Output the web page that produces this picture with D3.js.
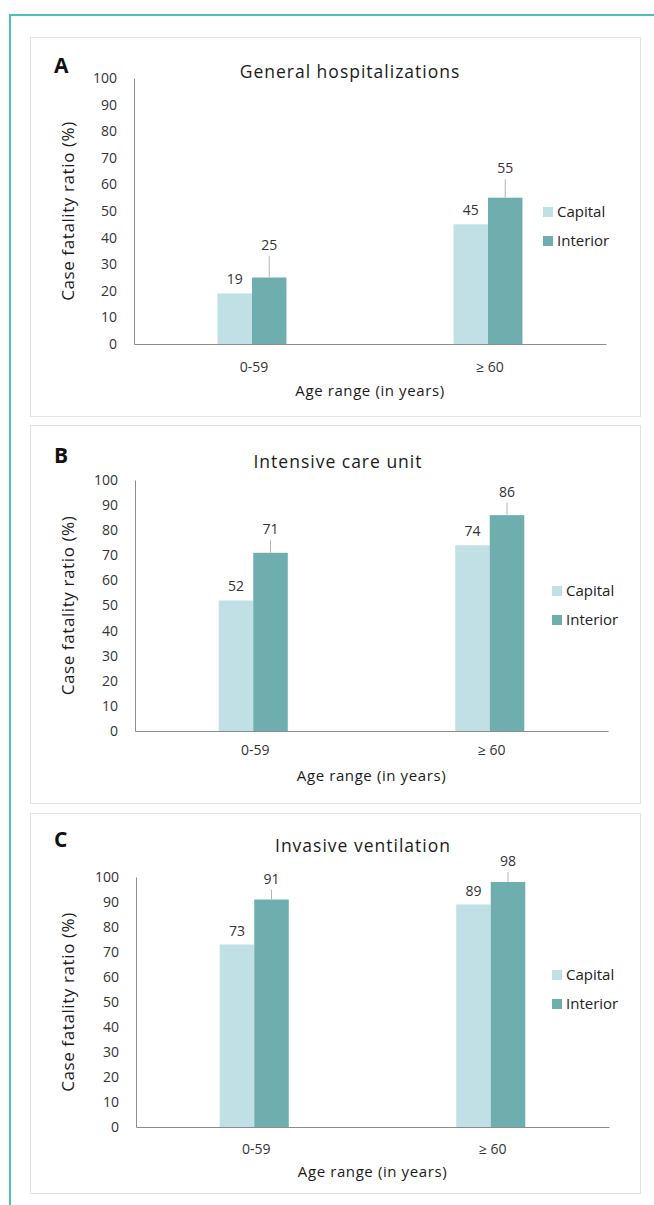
<!DOCTYPE html>
<html>
<head>
<meta charset="utf-8">
<script src="https://cdn.jsdelivr.net/npm/d3@7"></script>
<style>
  body { margin: 0; background: #fff; }
  svg { display: block; font-family: 'Open Sans', 'DejaVu Sans', sans-serif; }
</style>
</head>
<body>
<div id="chart"></div>
<script>
// data
const categories = ['0-59', '\u2265 60'];
const seriesNames = ['Capital', 'Interior'];
const yTicks = [0, 10, 20, 30, 40, 50, 60, 70, 80, 90, 100];

const hospCapital = [19, 45];
const hospInterior = [25, 55];
const hospInteriorErr = [8, 7];

const icuCapital = [52, 74];
const icuInterior = [71, 86];
const icuInteriorErr = [5, 5];

const ventCapital = [73, 89];
const ventInterior = [91, 98];
const ventInteriorErr = [4, 4];

const colors = { Capital: '#c0e0e6', Interior: '#6faeae' };

// layout per panel (pixels)
const panels = [
  { letter: 'A', title: 'General hospitalizations', capital: hospCapital, interior: hospInterior, err: hospInteriorErr,
    box: [30, 37, 640, 416], titleX: 350, titleY: 72, top: 78, bottom: 344, x0: 134, x1: 606, tickY: 367, labelY: 391, legX: 543, legY: 212 },
  { letter: 'B', title: 'Intensive care unit', capital: icuCapital, interior: icuInterior, err: icuInteriorErr,
    box: [30, 425, 640, 803], titleX: 338, titleY: 462, top: 480, bottom: 731, x0: 135, x1: 608, tickY: 750, labelY: 776, legX: 552, legY: 591 },
  { letter: 'C', title: 'Invasive ventilation', capital: ventCapital, interior: ventInterior, err: ventInteriorErr,
    box: [30, 813, 640, 1193], titleX: 363, titleY: 846, top: 877, bottom: 1127, x0: 136, x1: 609, tickY: 1149, labelY: 1172, legX: 552, legY: 975 },
];

const W = 654, H = 1205;
const svg = d3.select('#chart').append('svg')
  .attr('width', W)
  .attr('height', H);

// outer teal frame (top and left)
svg.append('path')
  .attr('d', `M10,${H} L10,15 L${W},15`)
  .attr('fill', 'none')
  .attr('stroke', '#4cbfbf')
  .attr('stroke-width', 2);

panels.forEach((p) => {
  const g = svg.append('g');
  const [bx0, by0, bx1, by1] = p.box;

  g.append('rect')
    .attr('x', bx0 + 0.5).attr('y', by0 + 0.5)
    .attr('width', bx1 - bx0).attr('height', by1 - by0)
    .attr('fill', '#fff')
    .attr('stroke', '#e3e3e3');

  g.append('text')
    .attr('x', 54).attr('y', p.titleY + 1)
    .attr('font-size', 21).attr('font-weight', 700)
    .attr('fill', '#111')
    .text(p.letter);

  const x = d3.scaleBand().domain(categories).range([p.x0, p.x1]);
  const y = d3.scaleLinear().domain([0, 100]).range([p.bottom, p.top]);
  const barW = x.bandwidth() * 0.146;

  g.append('text')
    .attr('x', p.titleX).attr('y', p.titleY + 6)
    .attr('text-anchor', 'middle')
    .attr('font-size', 17.5).attr('font-weight', 500)
    .attr('letter-spacing', 1)
    .attr('fill', '#1a1a1a')
    .text(p.title);

  // y axis: line only, labels
  const yAxis = g.append('g')
    .attr('transform', `translate(${p.x0},0)`)
    .call(d3.axisLeft(y).tickValues(yTicks).tickSize(0).tickPadding(17));
  yAxis.select('.domain').attr('stroke', '#8c8c8c');
  yAxis.selectAll('text')
    .attr('font-size', 14).attr('fill', '#333')
    .attr('font-family', "'Open Sans', 'DejaVu Sans', sans-serif");

  const xAxis = g.append('g')
    .attr('transform', `translate(0,${p.bottom})`)
    .call(d3.axisBottom(x).tickSize(0).tickPadding(0));
  xAxis.select('.domain').attr('stroke', '#8c8c8c');
  xAxis.selectAll('text').remove();

  g.selectAll('.xlab')
    .data(categories)
    .enter().append('text')
      .attr('x', d => x(d) + x.bandwidth() / 2 + 2)
      .attr('y', p.tickY + 5)
      .attr('text-anchor', 'middle')
      .attr('font-size', 14).attr('fill', '#333')
      .text(d => d);

  g.append('text')
    .attr('x', (p.x0 + p.x1) / 2).attr('y', p.labelY + 5)
    .attr('text-anchor', 'middle')
    .attr('font-size', 15).attr('letter-spacing', 0.6)
    .attr('fill', '#1a1a1a')
    .text('Age range (in years)');

  g.append('text')
    .attr('transform', `translate(74,${(p.top + p.bottom) / 2}) rotate(-90)`)
    .attr('text-anchor', 'middle')
    .attr('font-size', 17).attr('letter-spacing', 0.6)
    .attr('fill', '#1a1a1a')
    .text('Case fatality ratio (%)');

  // bars
  const rows = categories.map((c, i) => ({
    cat: c, capital: p.capital[i], interior: p.interior[i], err: p.err[i],
  }));

  const cx = d => x(d.cat) + x.bandwidth() / 2;

  g.selectAll('.cap')
    .data(rows)
    .enter().append('rect')
      .attr('x', d => cx(d) - barW)
      .attr('y', d => y(d.capital))
      .attr('width', barW)
      .attr('height', d => p.bottom - y(d.capital))
      .attr('fill', colors.Capital);

  g.selectAll('.int')
    .data(rows)
    .enter().append('rect')
      .attr('x', d => cx(d))
      .attr('y', d => y(d.interior))
      .attr('width', barW)
      .attr('height', d => p.bottom - y(d.interior))
      .attr('fill', colors.Interior);

  // upper error whiskers on interior
  g.selectAll('.err')
    .data(rows)
    .enter().append('line')
      .attr('x1', d => cx(d) + barW / 2)
      .attr('x2', d => cx(d) + barW / 2)
      .attr('y1', d => y(d.interior))
      .attr('y2', d => y(d.interior + d.err))
      .attr('stroke', '#b5b5b5')
      .attr('stroke-width', 1);

  // value labels
  g.selectAll('.capLab')
    .data(rows)
    .enter().append('text')
      .attr('x', d => cx(d) - barW / 2)
      .attr('y', d => y(d.capital) - 9)
      .attr('text-anchor', 'middle')
      .attr('font-size', 14).attr('fill', '#333')
      .text(d => d.capital);

  g.selectAll('.intLab')
    .data(rows)
    .enter().append('text')
      .attr('x', d => cx(d) + barW / 2)
      .attr('y', d => y(d.interior + d.err) - 6)
      .attr('text-anchor', 'middle')
      .attr('font-size', 14).attr('fill', '#333')
      .text(d => d.interior);

  // legend
  const leg = g.selectAll('.leg')
    .data(seriesNames)
    .enter().append('g')
      .attr('transform', (d, i) => `translate(${p.legX},${p.legY + i * 29})`);
  leg.append('rect')
    .attr('x', 0).attr('y', -5)
    .attr('width', 10).attr('height', 10)
    .attr('fill', d => colors[d]);
  leg.append('text')
    .attr('x', 14).attr('y', 5)
    .attr('font-size', 15).attr('fill', '#222')
    .text(d => d);
});
</script>
</body>
</html>
